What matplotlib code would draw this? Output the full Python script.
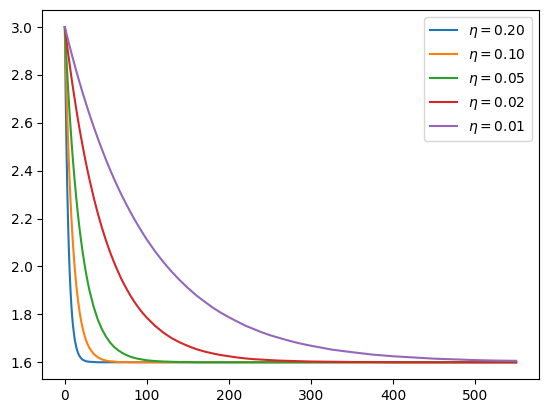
import matplotlib
matplotlib.use("Agg")
import matplotlib.pyplot as plt

steps = [0, 1, 2, 3, 4, 5, 6, 7, 8, 9, 10,
         12, 14, 16, 18, 20, 22, 24, 26, 28, 30,
         35, 40, 45, 50, 55, 60, 65, 70, 75, 80, 85, 90, 95, 100,
         110, 120, 130, 140, 150, 160, 170, 180, 190, 200,
         210, 220, 230, 240, 250, 260, 270, 280, 290, 300,
         325, 350, 375, 400, 425, 450, 475, 500, 525, 550]

labels = [r"$\eta = 0.20$", r"$\eta = 0.10$", r"$\eta = 0.05$",
          r"$\eta = 0.02$", r"$\eta = 0.01$"]

y_020 = [3.000, 2.720, 2.496, 2.317, 2.173, 2.059, 1.967, 1.894, 1.835, 1.788, 1.750,
         1.696, 1.662, 1.639, 1.625, 1.616, 1.610, 1.607, 1.604, 1.603, 1.602,
         1.601, 1.600, 1.600, 1.600, 1.600, 1.600, 1.600, 1.600, 1.600, 1.600, 1.600, 1.600, 1.600, 1.600,
         1.600, 1.600, 1.600, 1.600, 1.600, 1.600, 1.600, 1.600, 1.600, 1.600,
         1.600, 1.600, 1.600, 1.600, 1.600, 1.600, 1.600, 1.600, 1.600, 1.600,
         1.600, 1.600, 1.600, 1.600, 1.600, 1.600, 1.600, 1.600, 1.600, 1.600]
y_010 = [3.000, 2.860, 2.734, 2.621, 2.519, 2.427, 2.344, 2.270, 2.203, 2.142, 2.088,
         1.995, 1.920, 1.859, 1.810, 1.770, 1.738, 1.712, 1.690, 1.673, 1.659,
         1.635, 1.621, 1.612, 1.607, 1.604, 1.603, 1.601, 1.601, 1.601, 1.600, 1.600, 1.600, 1.600, 1.600,
         1.600, 1.600, 1.600, 1.600, 1.600, 1.600, 1.600, 1.600, 1.600, 1.600,
         1.600, 1.600, 1.600, 1.600, 1.600, 1.600, 1.600, 1.600, 1.600, 1.600,
         1.600, 1.600, 1.600, 1.600, 1.600, 1.600, 1.600, 1.600, 1.600, 1.600]
y_005 = [3.000, 2.930, 2.864, 2.800, 2.740, 2.683, 2.629, 2.578, 2.529, 2.482, 2.438,
         2.357, 2.283, 2.216, 2.156, 2.102, 2.053, 2.009, 1.969, 1.933, 1.900,
         1.833, 1.780, 1.739, 1.708, 1.683, 1.664, 1.650, 1.639, 1.630, 1.623, 1.618, 1.614, 1.611, 1.608,
         1.605, 1.603, 1.602, 1.601, 1.601, 1.600, 1.600, 1.600, 1.600, 1.600,
         1.600, 1.600, 1.600, 1.600, 1.600, 1.600, 1.600, 1.600, 1.600, 1.600,
         1.600, 1.600, 1.600, 1.600, 1.600, 1.600, 1.600, 1.600, 1.600, 1.600]
y_002 = [3.000, 2.972, 2.945, 2.918, 2.891, 2.865, 2.840, 2.815, 2.791, 2.767, 2.744,
         2.699, 2.655, 2.613, 2.573, 2.535, 2.498, 2.462, 2.428, 2.395, 2.364,
         2.290, 2.224, 2.164, 2.110, 2.061, 2.017, 1.977, 1.940, 1.908, 1.878, 1.851, 1.827, 1.805, 1.786,
         1.752, 1.724, 1.701, 1.683, 1.668, 1.655, 1.645, 1.637, 1.630, 1.625,
         1.620, 1.616, 1.613, 1.611, 1.609, 1.607, 1.606, 1.605, 1.604, 1.603,
         1.602, 1.601, 1.601, 1.600, 1.600, 1.600, 1.600, 1.600, 1.600, 1.600]
y_001 = [3.000, 2.986, 2.972, 2.958, 2.945, 2.931, 2.918, 2.905, 2.892, 2.879, 2.866,
         2.841, 2.816, 2.792, 2.768, 2.745, 2.722, 2.700, 2.678, 2.657, 2.636,
         2.585, 2.537, 2.491, 2.447, 2.405, 2.366, 2.328, 2.293, 2.259, 2.227, 2.196, 2.167, 2.139, 2.112,
         2.063, 2.019, 1.979, 1.943, 1.910, 1.880, 1.854, 1.829, 1.807, 1.788,
         1.770, 1.753, 1.739, 1.725, 1.713, 1.703, 1.693, 1.684, 1.676, 1.669,
         1.653, 1.642, 1.632, 1.625, 1.620, 1.615, 1.612, 1.609, 1.607, 1.606]

series = [y_020, y_010, y_005, y_002, y_001]

fig = plt.figure(figsize=(5.47, 4.13), dpi=100)
ax = fig.add_axes([0.0773, 0.0823, 0.9075, 0.8927])
for ys, lab in zip(series, labels):
    ax.plot(steps, ys, label=lab)
ax.legend(loc="upper right")
fig.savefig("out.png", dpi=100)
